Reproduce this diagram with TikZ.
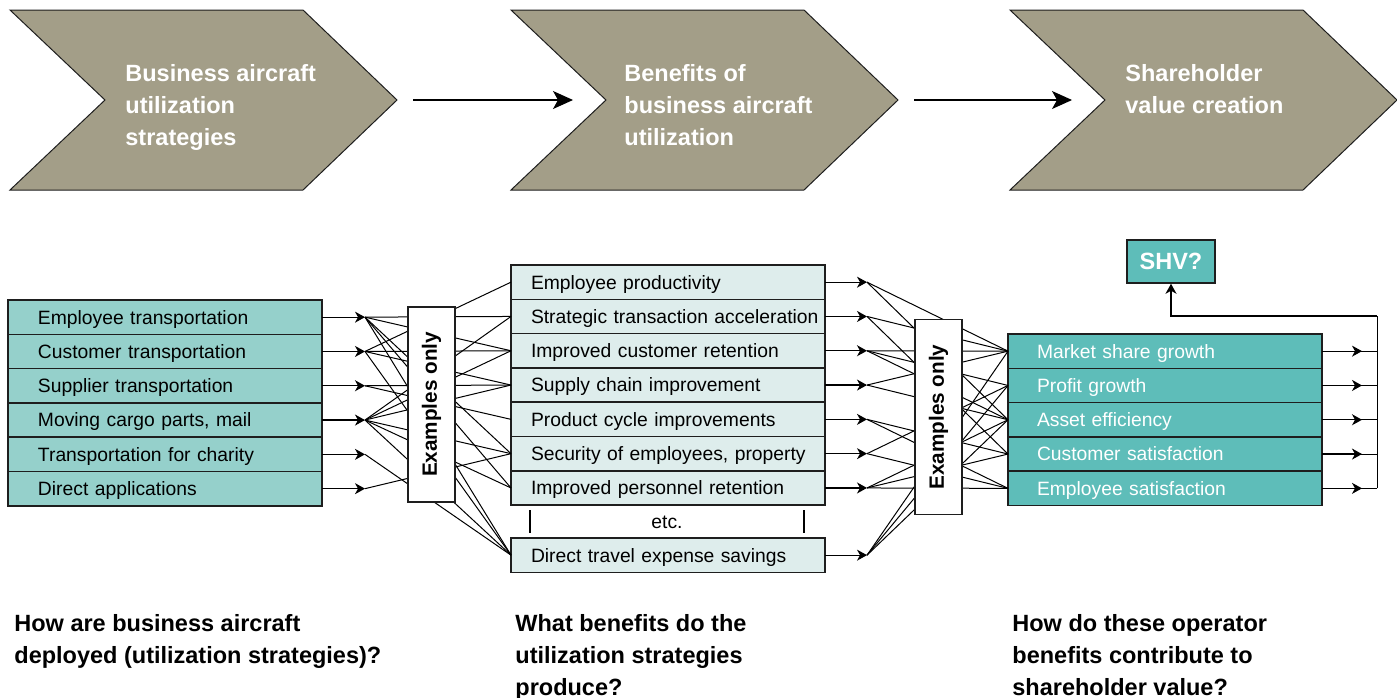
\documentclass[tikz,border=0pt]{standalone}
\usepackage{fontspec}
\setmainfont{Liberation Sans}
\usetikzlibrary{positioning,arrows.meta}

\definecolor{chevgray}{HTML}{A39E88}
\definecolor{stratteal}{HTML}{95D0CB}
\definecolor{benefitpale}{HTML}{DEEDEC}
\definecolor{valueteal}{HTML}{5EBDB9}
\definecolor{edge}{HTML}{1E1E1E}

\tikzset{
  chevron/.style={fill=chevgray, draw=edge, line width=0.5pt},
  chevtext/.style={anchor=north west, align=left, inner sep=0pt, text=white,
    font=\fontsize{11.75}{16}\selectfont\bfseries},
  rowbox/.style={draw=edge, line width=0.75pt, text width=157pt, align=left,
    minimum height=17.15pt, inner xsep=0pt, inner ysep=0pt, outer sep=0pt,
    text height=9.1pt, text depth=2.2pt, font=\fontsize{9.65}{11}\selectfont},
  strat/.style={rowbox, fill=stratteal, execute at begin node={\hspace*{15pt}}},
  benefit/.style={rowbox, fill=benefitpale, execute at begin node={\hspace*{10pt}}},
  value/.style={rowbox, fill=valueteal, text=white, execute at begin node={\hspace*{14.5pt}}},
  exbox/.style={draw=edge, fill=white, line width=0.75pt, rotate=90,
    minimum width=97.5pt, minimum height=23.5pt, inner sep=0pt,
    font=\fontsize{10.35}{12}\selectfont\bfseries},
  shvbox/.style={draw=edge, fill=valueteal, line width=0.75pt, text=white,
    minimum width=44pt, minimum height=21.5pt, inner sep=0pt,
    font=\fontsize{11.75}{14}\selectfont\bfseries},
  question/.style={anchor=north west, align=left, inner sep=0pt,
    font=\fontsize{11.75}{16}\selectfont\bfseries},
  feed/.style={-{Stealth[length=5pt,width=5.5pt,inset=1.5pt]}, line width=0.6pt},
  bigfeed/.style={-{Stealth[length=10pt,width=9pt,inset=2.5pt]}, line width=0.6pt},
  fan/.style={line width=0.5pt}
}

\begin{document}
\begin{tikzpicture}[x=0.5pt, y=-0.5pt]
  \useasboundingbox (0,0) rectangle (1397,697);

  % the three stages
  \foreach \x/\n in {10/1,511/2,1010/3}
    \draw[chevron] (\x,10) -- ++(293,0) -- ++(94,90) coordinate (tip\n)
      -- ++(-94,90) -- ++(-293,0) -- ++(95,-90) coordinate (notch\n) -- cycle;
  \node[chevtext] (c1) at (125,64.5) {Business aircraft\\utilization\\strategies};
  \node[chevtext] (c2) at (624,64.5) {Benefits of\\business aircraft\\utilization};
  \node[chevtext] (c3) at (1125,64.5) {Shareholder\\value creation};
  \draw[bigfeed] ([xshift=8pt]tip1) -- ([xshift=-16.5pt]notch2);
  \draw[bigfeed] ([xshift=8pt]tip2) -- ([xshift=-16.5pt]notch3);

  % strategies
  \node[strat, anchor=north west] (l1) at (8,300) {Employee transportation};
  \node[strat, below=0pt of l1] (l2) {Customer transportation};
  \node[strat, below=0pt of l2] (l3) {Supplier transportation};
  \node[strat, below=0pt of l3] (l4) {Moving cargo parts, mail};
  \node[strat, below=0pt of l4] (l5) {Transportation for charity};
  \node[strat, below=0pt of l5] (l6) {Direct applications};

  % benefits
  \node[benefit, anchor=north west] (m1) at (511,265) {Employee productivity};
  \node[benefit, below=0pt of m1] (m2) {Strategic transaction acceleration};
  \node[benefit, below=0pt of m2] (m3) {Improved customer retention};
  \node[benefit, below=0pt of m3] (m4) {Supply chain improvement};
  \node[benefit, below=0pt of m4] (m5) {Product cycle improvements};
  \node[benefit, below=0pt of m5] (m6) {Security of employees, property};
  \node[benefit, below=0pt of m6] (m7) {Improved personnel retention};
  \node[benefit, anchor=north west] (m8) at (511,538) {Direct travel expense savings};
  \node[font=\fontsize{9.65}{11}\selectfont] (etc) at (667,522) {etc.};
  \draw[line width=0.75pt] (530,510) -- (530,533);
  \draw[line width=0.75pt] (804,510) -- (804,533);

  % value drivers
  \node[value, anchor=north west] (r1) at (1008,334) {Market share growth};
  \node[value, below=0pt of r1] (r2) {Profit growth};
  \node[value, below=0pt of r2] (r3) {Asset efficiency};
  \node[value, below=0pt of r3] (r4) {Customer satisfaction};
  \node[value, below=0pt of r4] (r5) {Employee satisfaction};
  \node[shvbox] (shv) at (1171,261.5) {SHV?};

  \foreach \i in {1,...,6}
    \draw[feed] (l\i.east) -- ++(21.5pt,0) coordinate (a\i);
  \foreach \i in {1,...,8}
    \draw[feed] (m\i.east) -- ++(21pt,0) coordinate (b\i);

  \begin{scope}[fan]
    \foreach \s/\t in {1/2,1/3,1/6,1/7,1/8, 2/1,2/3,2/4,2/8, 3/4,3/5,
                       4/2,4/3,4/4,4/6,4/7,4/8, 5/8, 6/6}
      \draw (a\s) -- (m\t.west);
    \foreach \s/\t in {1/1,1/3, 2/1,2/4, 3/1,3/2,3/3, 4/1,4/3, 5/4,5/5,
                       6/2,6/5, 7/3,7/4,7/5, 8/1,8/2,8/3}
      \draw (b\s) -- (r\t.west);
  \end{scope}

  \node[exbox] (ex1) at (431.5,404.5) {Examples only};
  \node[exbox] (ex2) at (938.5,417) {Examples only};

  % collect into shareholder value
  \coordinate (bus) at (1377,316);
  \foreach \i in {1,...,5} {
    \draw[fan] (r\i.east) -- (r\i.east -| bus);
    \draw[feed] (r\i.east) -- ++(20pt,0);
  }
  \draw[fan] (r5.east -| bus) -- (bus);
  \draw[feed] (bus) -| (shv.south);

  % guiding questions
  \node[question] (q1) at (14,614) {How are business aircraft\\deployed (utilization strategies)?};
  \node[question] (q2) at (515,614) {What benefits do the\\utilization strategies\\produce?};
  \node[question] (q3) at (1012,614) {How do these operator\\benefits contribute to\\shareholder value?};
\end{tikzpicture}
\end{document}
